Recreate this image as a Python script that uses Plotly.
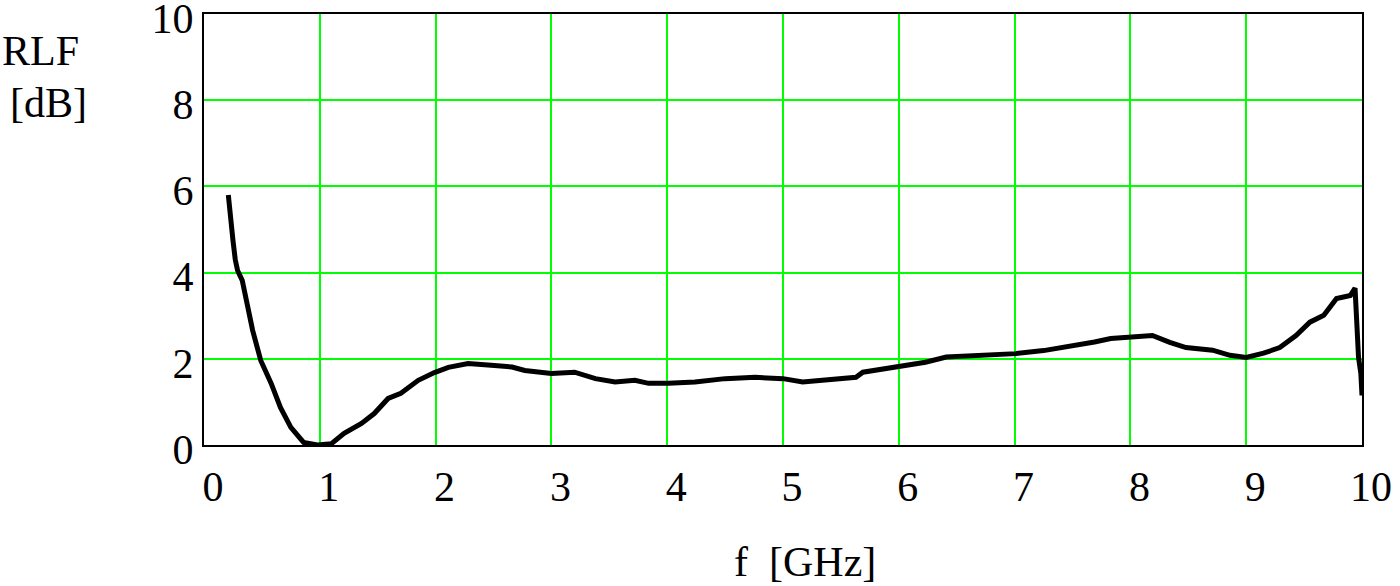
import plotly.graph_objects as go

# frequency [GHz] and RLF [dB]
freq_ghz = [0.21, 0.23, 0.25, 0.27, 0.29, 0.33, 0.38, 0.42, 0.49, 0.58, 0.66, 0.75, 0.86, 0.98,
            1.10, 1.21, 1.36, 1.47, 1.59, 1.70, 1.85, 1.99, 2.11, 2.22, 2.28, 2.48, 2.66, 2.77,
            3.00, 3.20, 3.38, 3.55, 3.72, 3.84, 4.01, 4.24, 4.50, 4.76, 5.00, 5.17, 5.37, 5.63,
            5.69, 5.92, 6.03, 6.23, 6.41, 6.66, 7.01, 7.25, 7.45, 7.69, 7.83, 8.02, 8.19, 8.34,
            8.48, 8.71, 8.86, 9.00, 9.15, 9.29, 9.43, 9.55, 9.67, 9.78, 9.90, 9.94, 9.95, 9.97,
            9.99, 10.0]
rlf_db = [5.80, 5.38, 4.75, 4.30, 4.05, 3.82, 3.19, 2.66, 1.96, 1.43, 0.87, 0.41, 0.06, 0.00,
          0.03, 0.27, 0.50, 0.73, 1.08, 1.20, 1.50, 1.68, 1.80, 1.87, 1.89, 1.85, 1.81, 1.73,
          1.66, 1.69, 1.54, 1.46, 1.50, 1.43, 1.43, 1.46, 1.54, 1.57, 1.54, 1.46, 1.52, 1.57,
          1.69, 1.78, 1.85, 1.92, 2.04, 2.08, 2.12, 2.19, 2.27, 2.39, 2.47, 2.52, 2.54, 2.38,
          2.26, 2.20, 2.08, 2.03, 2.13, 2.26, 2.54, 2.85, 3.01, 3.40, 3.47, 3.64, 2.89, 2.03,
          1.66, 1.15]

x_ticks = list(range(0, 11))
y_ticks = [0, 2, 4, 6, 8, 10]

font_main = dict(family='Liberation Serif', size=42, color='black')

fig = go.Figure(go.Scatter(x=freq_ghz, y=rlf_db, mode='lines',
                           line=dict(color='black', width=5), showlegend=False))

fig.update_xaxes(range=[0, 10], tickvals=x_ticks, showgrid=True, gridcolor='#00ff00', gridwidth=2,
                 showline=True, linecolor='black', linewidth=2, mirror=True, zeroline=False,
                 ticks='', tickfont=font_main, ticklabelshift=9, ticklabelstandoff=4,
                 ticklabeloverflow='allow', automargin=False)
fig.update_yaxes(range=[0, 10], tickvals=y_ticks, showgrid=True, gridcolor='#00ff00', gridwidth=2,
                 showline=True, linecolor='black', linewidth=2, mirror=True, zeroline=False,
                 ticks='', tickfont=font_main, ticklabelstandoff=0, ticklabelshift=4,
                 ticklabeloverflow='allow', automargin=False)

# axis titles placed like the original (stacked label on the left, centred below)
fig.add_annotation(text='RLF', x=-0.1408, y=0.914, xref='paper', yref='paper',
                   xanchor='center', yanchor='middle', showarrow=False, font=font_main)
fig.add_annotation(text='[dB]', x=-0.1347, y=0.7935, xref='paper', yref='paper',
                   xanchor='center', yanchor='middle', showarrow=False, font=font_main)
fig.add_annotation(text='f  [GHz]', x=0.519, y=-0.2715, xref='paper', yref='paper',
                   xanchor='center', yanchor='middle', showarrow=False, font=font_main)

fig.update_layout(width=1400, height=586, paper_bgcolor='white', plot_bgcolor='white',
                  margin=dict(l=204, r=38, t=14, b=141))

# drop the default 8px body margin so the figure sits at the page corner
fig.write_html("out.html", config=dict(displayModeBar=False),
               post_script="document.body.style.margin='0';")
